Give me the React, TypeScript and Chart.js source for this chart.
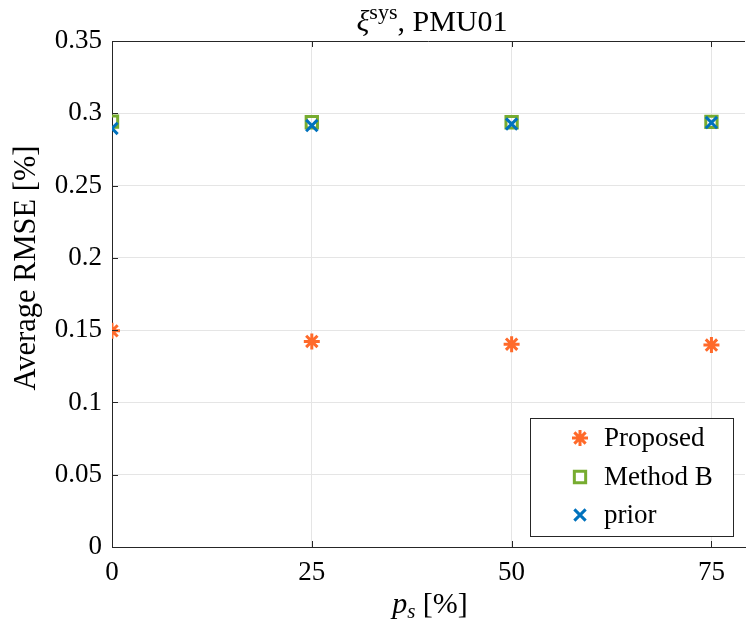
import React, { useEffect, useRef } from "react";
import { Chart, registerables } from "chart.js";

Chart.register(...registerables);

// Sampling share p_s [%]
const psValues = [0, 25, 50, 75];
// Average RMSE [%] per method
const proposedRmse = [0.1495, 0.1422, 0.1403, 0.1397];
const methodBRmse = [0.2942, 0.2938, 0.2938, 0.294];
const priorRmse = [0.2895, 0.2915, 0.2926, 0.2936];

const xTicks = [0, 25, 50, 75];
const yTicks = [0, 0.05, 0.1, 0.15, 0.2, 0.25, 0.3, 0.35];
const yTickLabels = ["0", "0.05", "0.1", "0.15", "0.2", "0.25", "0.3", "0.35"];

const seriesNames = ["Proposed", "Method B", "prior"];

const ORANGE = "#FF6A2A";
const GREEN = "#77AC30";
const BLUE = "#0072BD";
const TEXT = "#262626";
const SERIF = '"Liberation Serif", "DejaVu Serif", serif';

const pts = (ys: number[]) => psValues.map((x, i) => ({ x, y: ys[i] }));

function drawMarker(ctx: CanvasRenderingContext2D, style: string, x: number, y: number, r: number, color: string) {
  ctx.save();
  ctx.strokeStyle = color;
  ctx.lineWidth = 3;
  ctx.beginPath();
  if (style === "rect") {
    const s = r * Math.SQRT1_2;
    ctx.rect(x - s, y - s, 2 * s, 2 * s);
  } else if (style === "crossRot") {
    const o = r * Math.SQRT1_2;
    ctx.moveTo(x - o, y - o);
    ctx.lineTo(x + o, y + o);
    ctx.moveTo(x + o, y - o);
    ctx.lineTo(x - o, y + o);
  } else {
    const o = r * Math.SQRT1_2;
    ctx.moveTo(x - r, y);
    ctx.lineTo(x + r, y);
    ctx.moveTo(x, y - r);
    ctx.lineTo(x, y + r);
    ctx.moveTo(x - o, y - o);
    ctx.lineTo(x + o, y + o);
    ctx.moveTo(x + o, y - o);
    ctx.lineTo(x - o, y + o);
  }
  ctx.stroke();
  ctx.restore();
}

type Part = { t: string; f: string; dy: number };

function drawRun(ctx: CanvasRenderingContext2D, parts: Part[], cx: number, base: number) {
  let total = 0;
  parts.forEach((p) => {
    ctx.font = p.f;
    total += ctx.measureText(p.t).width;
  });
  let tx = cx - total / 2;
  ctx.textAlign = "left";
  ctx.textBaseline = "alphabetic";
  parts.forEach((p) => {
    ctx.font = p.f;
    ctx.fillText(p.t, tx, base + p.dy);
    tx += ctx.measureText(p.t).width;
  });
}

const decorations = {
  id: "decorations",
  afterDraw(chart: any) {
    const { ctx, chartArea: a, scales } = chart;
    const xs = scales.x;
    const ys = scales.y;
    ctx.save();

    // top border and inward tick marks
    ctx.strokeStyle = TEXT;
    ctx.lineWidth = 1;
    ctx.beginPath();
    ctx.moveTo(a.left, a.top + 0.5);
    ctx.lineTo(a.right, a.top + 0.5);
    const tl = 6;
    xTicks.forEach((v) => {
      const px = Math.round(xs.getPixelForValue(v)) + 0.5;
      ctx.moveTo(px, a.bottom);
      ctx.lineTo(px, a.bottom - tl);
      ctx.moveTo(px, a.top);
      ctx.lineTo(px, a.top + tl);
    });
    yTicks.forEach((v) => {
      const py = Math.round(ys.getPixelForValue(v)) + 0.5;
      ctx.moveTo(a.left, py);
      ctx.lineTo(a.left + tl, py);
    });
    ctx.stroke();

    ctx.fillStyle = "#000";
    // title: xi^sys, PMU01
    drawRun(
      ctx,
      [
        { t: "\u03BE", f: `italic 30px ${SERIF}`, dy: 0 },
        { t: "sys", f: `22px ${SERIF}`, dy: -12 },
        { t: ", PMU01", f: `30px ${SERIF}`, dy: 0 },
      ],
      432,
      31
    );

    // x axis title: p_s [%]
    drawRun(
      ctx,
      [
        { t: "p", f: `italic 30px ${SERIF}`, dy: 0 },
        { t: "s", f: `italic 21px ${SERIF}`, dy: 5 },
        { t: " [%]", f: `30px ${SERIF}`, dy: 0 },
      ],
      430,
      613
    );

    // y axis title
    ctx.save();
    ctx.translate(27, 268);
    ctx.rotate(-Math.PI / 2);
    ctx.font = `30.5px ${SERIF}`;
    ctx.textAlign = "center";
    ctx.textBaseline = "middle";
    ctx.fillText("Average RMSE [%]", 0, 0);
    ctx.restore();

    // legend
    const lx = 530.5;
    const ly = 418.5;
    const lw = 203;
    const lh = 118;
    ctx.fillStyle = "#fff";
    ctx.fillRect(lx, ly, lw, lh);
    ctx.strokeStyle = TEXT;
    ctx.lineWidth = 1;
    ctx.strokeRect(lx, ly, lw, lh);
    const rows = [438, 477, 515];
    const styles = ["star", "rect", "crossRot"];
    const colors = [ORANGE, GREEN, BLUE];
    rows.forEach((ry, i) => {
      drawMarker(ctx, styles[i], 580, ry, 8, colors[i]);
      ctx.fillStyle = "#000";
      ctx.font = `27px ${SERIF}`;
      ctx.textAlign = "left";
      ctx.textBaseline = "middle";
      ctx.fillText(seriesNames[i], 604, ry + 1);
    });

    ctx.restore();
  },
};

export default function App() {
  const ref = useRef<HTMLCanvasElement | null>(null);

  useEffect(() => {
    if (!ref.current) return;
    const chart = new Chart(ref.current, {
      type: "scatter",
      data: {
        datasets: [
          {
            label: seriesNames[0],
            data: pts(proposedRmse),
            pointStyle: "star",
            pointRadius: 8,
            pointBorderWidth: 3,
            borderColor: ORANGE,
            backgroundColor: ORANGE,
            order: 2,
          },
          {
            label: seriesNames[1],
            data: pts(methodBRmse),
            pointStyle: "rect",
            pointRadius: 8,
            pointBorderWidth: 3,
            borderColor: GREEN,
            backgroundColor: "rgba(0,0,0,0)",
            order: 1,
          },
          {
            label: seriesNames[2],
            data: pts(priorRmse),
            pointStyle: "crossRot",
            pointRadius: 8,
            pointBorderWidth: 3,
            borderColor: BLUE,
            backgroundColor: BLUE,
            order: 0,
          },
        ],
      },
      options: {
        responsive: false,
        animation: false,
        events: [],
        layout: { autoPadding: false, padding: { top: 41, right: 1, left: 0, bottom: 0 } },
        plugins: {
          legend: { display: false },
          title: { display: false },
          tooltip: { enabled: false },
        },
        scales: {
          x: {
            type: "linear",
            min: 0,
            max: 79.2,
            afterBuildTicks: (s: any) => {
              s.ticks = xTicks.map((v) => ({ value: v }));
            },
            afterFit: (s: any) => {
              s.height = 83;
              s.paddingLeft = 0;
              s.paddingRight = 0;
            },
            grid: { color: "#e5e5e5", lineWidth: 1, drawTicks: false },
            border: { color: TEXT, width: 1 },
            ticks: {
              padding: 10,
              color: "#000",
              font: { family: SERIF, size: 27 },
              maxRotation: 0,
            },
          },
          y: {
            type: "linear",
            min: 0,
            max: 0.35,
            afterBuildTicks: (s: any) => {
              s.ticks = yTicks.map((v) => ({ value: v }));
            },
            afterFit: (s: any) => {
              s.width = 112;
              s.paddingTop = 0;
              s.paddingBottom = 0;
            },
            grid: { color: "#e5e5e5", lineWidth: 1, drawTicks: false },
            border: { color: TEXT, width: 1 },
            ticks: {
              padding: 10,
              color: "#000",
              font: { family: SERIF, size: 27 },
              callback: (v: any) => {
                const i = yTicks.findIndex((t) => Math.abs(t - v) < 1e-9);
                return i >= 0 ? yTickLabels[i] : "";
              },
            },
          },
        },
      },
      plugins: [decorations],
    });
    return () => chart.destroy();
  }, []);

  return (
    <div style={{ position: "fixed", left: 0, top: 0, width: 746, height: 630, background: "#fff" }}>
      <canvas ref={ref} width={746} height={630} />
    </div>
  );
}
